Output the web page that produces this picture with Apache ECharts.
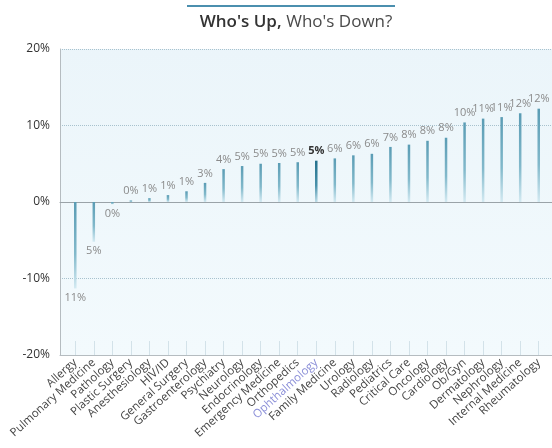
<!DOCTYPE html>
<html>
<head>
<meta charset="utf-8">
<script src="https://cdn.jsdelivr.net/npm/echarts@6/dist/echarts.min.js"></script>
<style>
  html, body { margin: 0; padding: 0; background: #ffffff; }
  #chart { width: 552px; height: 448px; }
</style>
</head>
<body>
<div id="chart"></div>
<script>
// Year-over-year change by specialty (percent)
const specialties = [
  'Allergy', 'Pulmonary Medicine', 'Pathology', 'Plastic Surgery', 'Anesthesiology',
  'HIV/ID', 'General Surgery', 'Gastroenterology', 'Psychiatry', 'Neurology',
  'Endocrinology', 'Emergency Medicine', 'Orthopedics', 'Ophthalmology', 'Family Medicine',
  'Urology', 'Radiology', 'Pediatrics', 'Critical Care', 'Oncology',
  'Cardiology', 'Ob/Gyn', 'Dermatology', 'Nephrology', 'Internal Medicine', 'Rheumatology'
];
const changes = [
  -11.3, -5.2, -0.3, 0.2, 0.5,
  0.9, 1.4, 2.5, 4.3, 4.7,
  5.0, 5.1, 5.2, 5.4, 5.7,
  6.1, 6.3, 7.2, 7.5, 8.0,
  8.4, 10.4, 10.9, 11.1, 11.6, 12.2
];
const yTicks = [-20, -10, 0, 10, 20];
const highlighted = 'Ophthalmology';

const FONT = '"Open Sans", "Noto Sans", sans-serif';

function stemGradient(top, mid, bottom) {
  return new echarts.graphic.LinearGradient(0, 0, 0, 1, [
    { offset: 0, color: top },
    { offset: 0.6, color: mid },
    { offset: 1, color: bottom }
  ]);
}

const barData = changes.map((v, i) => {
  const isHi = specialties[i] === highlighted;
  return {
    value: v,
    itemStyle: {
      color: isHi ? stemGradient('#23708c', '#4a92ab', '#bfdde8')
                  : stemGradient('#5a9cb4', '#82b9cb', '#d4eaf2')
    },
    label: {
      position: v < 0 ? 'bottom' : 'top',
      color: isHi ? '#333333' : '#8a8a8a',
      fontWeight: isHi ? 'bold' : 'normal'
    }
  };
});

const categoryData = specialties.map(name =>
  name === highlighted ? { value: name, textStyle: { color: '#8b8fd8' } } : name
);

const yMin = yTicks[0];
const yMax = yTicks[yTicks.length - 1];
const yStep = yTicks[1] - yTicks[0];

const chart = echarts.init(document.getElementById('chart'), null, { renderer: 'canvas' });

chart.setOption({
  animation: false,
  backgroundColor: '#ffffff',
  textStyle: { fontFamily: FONT },
  title: {
    text: "{b|Who's Up,} {n|Who's Down?}",
    left: 291,
    textAlign: 'center',
    top: 8,
    textStyle: {
      rich: {
        b: { fontFamily: FONT, fontSize: 17, fontWeight: 600, color: '#333333' },
        n: { fontFamily: FONT, fontSize: 17, fontWeight: 'normal', color: '#4a4a4a' }
      }
    }
  },
  graphic: [{
    type: 'rect',
    left: 187,
    top: 5,
    shape: { width: 208, height: 2 },
    style: { fill: '#4b8fae' }
  }],
  grid: [
    // panel with the value scale and reference lines
    { left: 60, right: 0, top: 49, height: 306, show: true, borderWidth: 0,
      backgroundColor: new echarts.graphic.LinearGradient(0, 0, 0, 1, [
        { offset: 0, color: '#ebf5fa' },
        { offset: 1, color: '#f3fafd' }
      ]) },
    // stems
    { left: 66, right: 4, top: 49, height: 306 }
  ],
  xAxis: [
    { gridIndex: 0, type: 'value', min: 0, max: 1, position: 'bottom',
      axisLine: { show: true, onZero: false, lineStyle: { color: '#b5bcc0', width: 1 } },
      axisTick: { show: false }, axisLabel: { show: false }, splitLine: { show: false } },
    { gridIndex: 0, type: 'value', min: 0, max: 1, position: 'top',
      axisLine: { show: true, onZero: true, lineStyle: { color: '#9aa3a8', width: 1 } },
      axisTick: { show: false }, axisLabel: { show: false }, splitLine: { show: false } },
    { gridIndex: 1, type: 'category', data: categoryData, boundaryGap: true,
      axisLine: { show: false, onZero: false },
      axisTick: { show: true, inside: true, alignWithLabel: true, length: 14,
        lineStyle: { color: '#d3e2e9', width: 1 } },
      axisLabel: { interval: 0, rotate: 42, margin: 6, fontSize: 11.5, color: '#444444',
        fontFamily: FONT },
      splitLine: { show: false } }
  ],
  yAxis: [
    { gridIndex: 0, type: 'value', min: yMin, max: yMax, interval: yStep,
      axisLine: { show: true, lineStyle: { color: '#b5bcc0' } },
      axisTick: { show: false },
      axisLabel: { formatter: v => v + '%', fontSize: 12, color: '#333333', margin: 10,
        fontFamily: FONT },
      splitLine: { show: true, lineStyle: { color: '#a8c2ce', type: 'dotted', width: 1 } } },
    { gridIndex: 1, type: 'value', min: yMin, max: yMax, interval: yStep, show: false,
      splitLine: { show: false } }
  ],
  series: [{
    type: 'bar',
    xAxisIndex: 2,
    yAxisIndex: 1,
    barWidth: 2.5,
    data: barData,
    label: {
      show: true,
      distance: 4,
      fontSize: 11,
      fontFamily: FONT,
      formatter: p => Math.abs(Math.round(p.value)) + '%'
    }
  }]
});
</script>
</body>
</html>
